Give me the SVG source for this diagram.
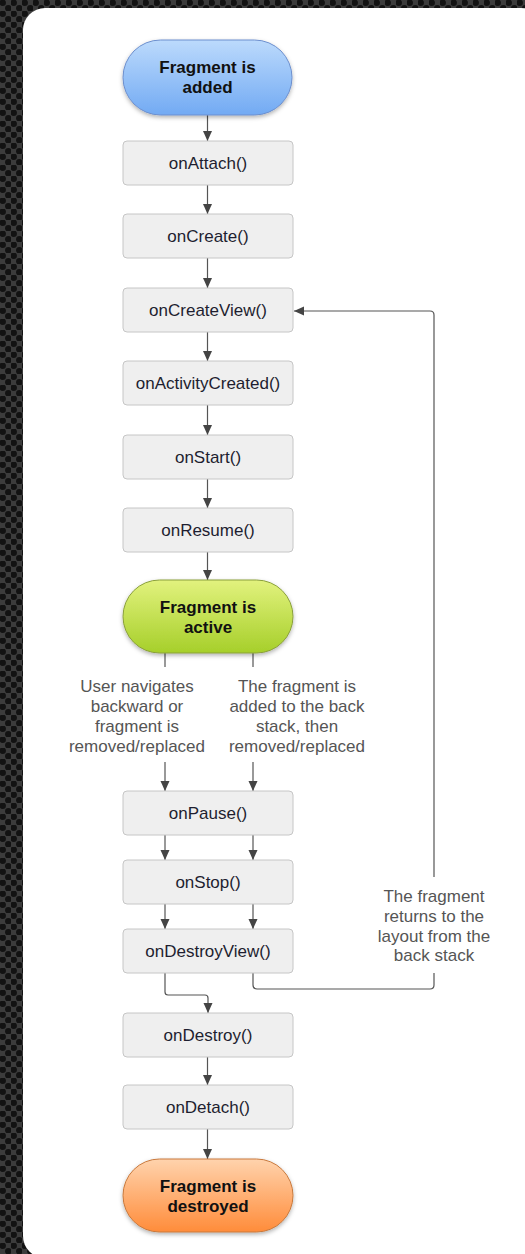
<svg xmlns="http://www.w3.org/2000/svg" width="525" height="1254" viewBox="0 0 525 1254">
<style>
.box{fill:#efefef;stroke:#c6c6c6;stroke-width:1}
.t{font-family:"Liberation Sans",Arial,sans-serif;font-size:17px;fill:#1e1e30;text-anchor:middle}
.b{font-family:"Liberation Sans",Arial,sans-serif;font-size:17px;font-weight:bold;fill:#111;text-anchor:middle}
.lbl{font-family:"Liberation Sans",Arial,sans-serif;font-size:17px;fill:#555;text-anchor:middle}
.c{fill:none;stroke:#555;stroke-width:1.2}
</style>
<defs>
<pattern id="dots" x="0" y="0" width="11" height="11" patternUnits="userSpaceOnUse">
<rect width="11" height="11" fill="#3c3c3c"/>
<circle cx="2.75" cy="2.75" r="3.2" fill="#121212"/>
<circle cx="8.25" cy="8.25" r="3.2" fill="#121212"/>
</pattern>
<linearGradient id="gBlue" x1="0" y1="0" x2="0" y2="1"><stop offset="0" stop-color="#bcdafc"/><stop offset="1" stop-color="#72aaf3"/></linearGradient>
<linearGradient id="gGreen" x1="0" y1="0" x2="0" y2="1"><stop offset="0" stop-color="#e2f27e"/><stop offset="1" stop-color="#a6cf2a"/></linearGradient>
<linearGradient id="gOrange" x1="0" y1="0" x2="0" y2="1"><stop offset="0" stop-color="#ffd3ad"/><stop offset="1" stop-color="#ff8c3a"/></linearGradient>
<filter id="sh" x="-10%" y="-10%" width="120%" height="130%"><feDropShadow dx="0" dy="2" stdDeviation="2" flood-color="#000" flood-opacity="0.3"/></filter>
<marker id="ah" markerWidth="10" markerHeight="11" refX="10" refY="5.5" orient="auto" markerUnits="userSpaceOnUse">
<path d="M0,1 L10,5.5 L0,10 Z" fill="#444"/>
</marker>
</defs>
<rect x="0" y="0" width="525" height="1254" fill="url(#dots)"/>
<rect x="23" y="8" width="520" height="1250" rx="22" fill="#ffffff"/>

<g id="connectors">
<path class="c" d="M207.5,115 V141" marker-end="url(#ah)"/>
<path class="c" d="M207.5,185 V214" marker-end="url(#ah)"/>
<path class="c" d="M207.5,258 V288" marker-end="url(#ah)"/>
<path class="c" d="M207.5,332 V361" marker-end="url(#ah)"/>
<path class="c" d="M207.5,405 V435" marker-end="url(#ah)"/>
<path class="c" d="M207.5,479 V508" marker-end="url(#ah)"/>
<path class="c" d="M207.5,552 V580" marker-end="url(#ah)"/>
<path class="c" d="M165,653 V667"/>
<path class="c" d="M253,653 V667"/>
<path class="c" d="M165,762 V791" marker-end="url(#ah)"/>
<path class="c" d="M253,762 V791" marker-end="url(#ah)"/>
<path class="c" d="M165,835 V860" marker-end="url(#ah)"/>
<path class="c" d="M253,835 V860" marker-end="url(#ah)"/>
<path class="c" d="M165,904 V929" marker-end="url(#ah)"/>
<path class="c" d="M253,904 V929" marker-end="url(#ah)"/>
<path class="c" d="M165,973 V992 Q165,995 168,995 H205 Q208,995 208,998 V1013" marker-end="url(#ah)"/>
<path class="c" d="M253,973 V985 Q253,989 257,989 H430 Q434,989 434,985 V973"/>
<path class="c" d="M434,877 V315 Q434,311 430,311 H294" marker-end="url(#ah)"/>
<path class="c" d="M207.5,1057 V1085" marker-end="url(#ah)"/>
<path class="c" d="M207.5,1129 V1159" marker-end="url(#ah)"/>
<text class="lbl" x="137" y="692">User navigates</text>
<text class="lbl" x="137" y="712">backward or</text>
<text class="lbl" x="137" y="732">fragment is</text>
<text class="lbl" x="137" y="752">removed/replaced</text>
<text class="lbl" x="297" y="692">The fragment is</text>
<text class="lbl" x="297" y="712">added to the back</text>
<text class="lbl" x="297" y="732">stack, then</text>
<text class="lbl" x="297" y="752">removed/replaced</text>
<text class="lbl" x="434" y="902">The fragment</text>
<text class="lbl" x="434" y="922">returns to the</text>
<text class="lbl" x="434" y="942">layout from the</text>
<text class="lbl" x="434" y="961">back stack</text>
</g>

<g id="added">
<rect x="123" y="40" width="169" height="75" rx="37.5" fill="url(#gBlue)" stroke="#6c8fce" stroke-width="1" filter="url(#sh)"/>
<text class="b" x="207.5" y="73">Fragment is</text>
<text class="b" x="207.5" y="93">added</text>
</g>
<g id="onAttach"><rect class="box" x="123" y="141" width="170" height="44" rx="4"/><text class="t" x="208" y="169">onAttach()</text></g>
<g id="onCreate"><rect class="box" x="123" y="214" width="170" height="44" rx="4"/><text class="t" x="208" y="242">onCreate()</text></g>
<g id="onCreateView"><rect class="box" x="123" y="288" width="170" height="44" rx="4"/><text class="t" x="208" y="316">onCreateView()</text></g>
<g id="onActivityCreated"><rect class="box" x="123" y="361" width="170" height="44" rx="4"/><text class="t" x="208" y="389">onActivityCreated()</text></g>
<g id="onStart"><rect class="box" x="123" y="435" width="170" height="44" rx="4"/><text class="t" x="208" y="463">onStart()</text></g>
<g id="onResume"><rect class="box" x="123" y="508" width="170" height="44" rx="4"/><text class="t" x="208" y="536">onResume()</text></g>
<g id="active">
<rect x="123" y="580" width="170" height="73" rx="36.5" fill="url(#gGreen)" stroke="#8aa03a" stroke-width="1" filter="url(#sh)"/>
<text class="b" x="208" y="613">Fragment is</text>
<text class="b" x="208" y="633">active</text>
</g>
<g id="onPause"><rect class="box" x="123" y="791" width="170" height="44" rx="4"/><text class="t" x="208" y="819">onPause()</text></g>
<g id="onStop"><rect class="box" x="123" y="860" width="170" height="44" rx="4"/><text class="t" x="208" y="888">onStop()</text></g>
<g id="onDestroyView"><rect class="box" x="123" y="929" width="170" height="44" rx="4"/><text class="t" x="208" y="957">onDestroyView()</text></g>
<g id="onDestroy"><rect class="box" x="123" y="1013" width="170" height="44" rx="4"/><text class="t" x="208" y="1041">onDestroy()</text></g>
<g id="onDetach"><rect class="box" x="123" y="1085" width="170" height="44" rx="4"/><text class="t" x="208" y="1113">onDetach()</text></g>
<g id="destroyed">
<rect x="123" y="1159" width="170" height="73" rx="36.5" fill="url(#gOrange)" stroke="#c9793c" stroke-width="1" filter="url(#sh)"/>
<text class="b" x="208" y="1192">Fragment is</text>
<text class="b" x="208" y="1212">destroyed</text>
</g>
</svg>
